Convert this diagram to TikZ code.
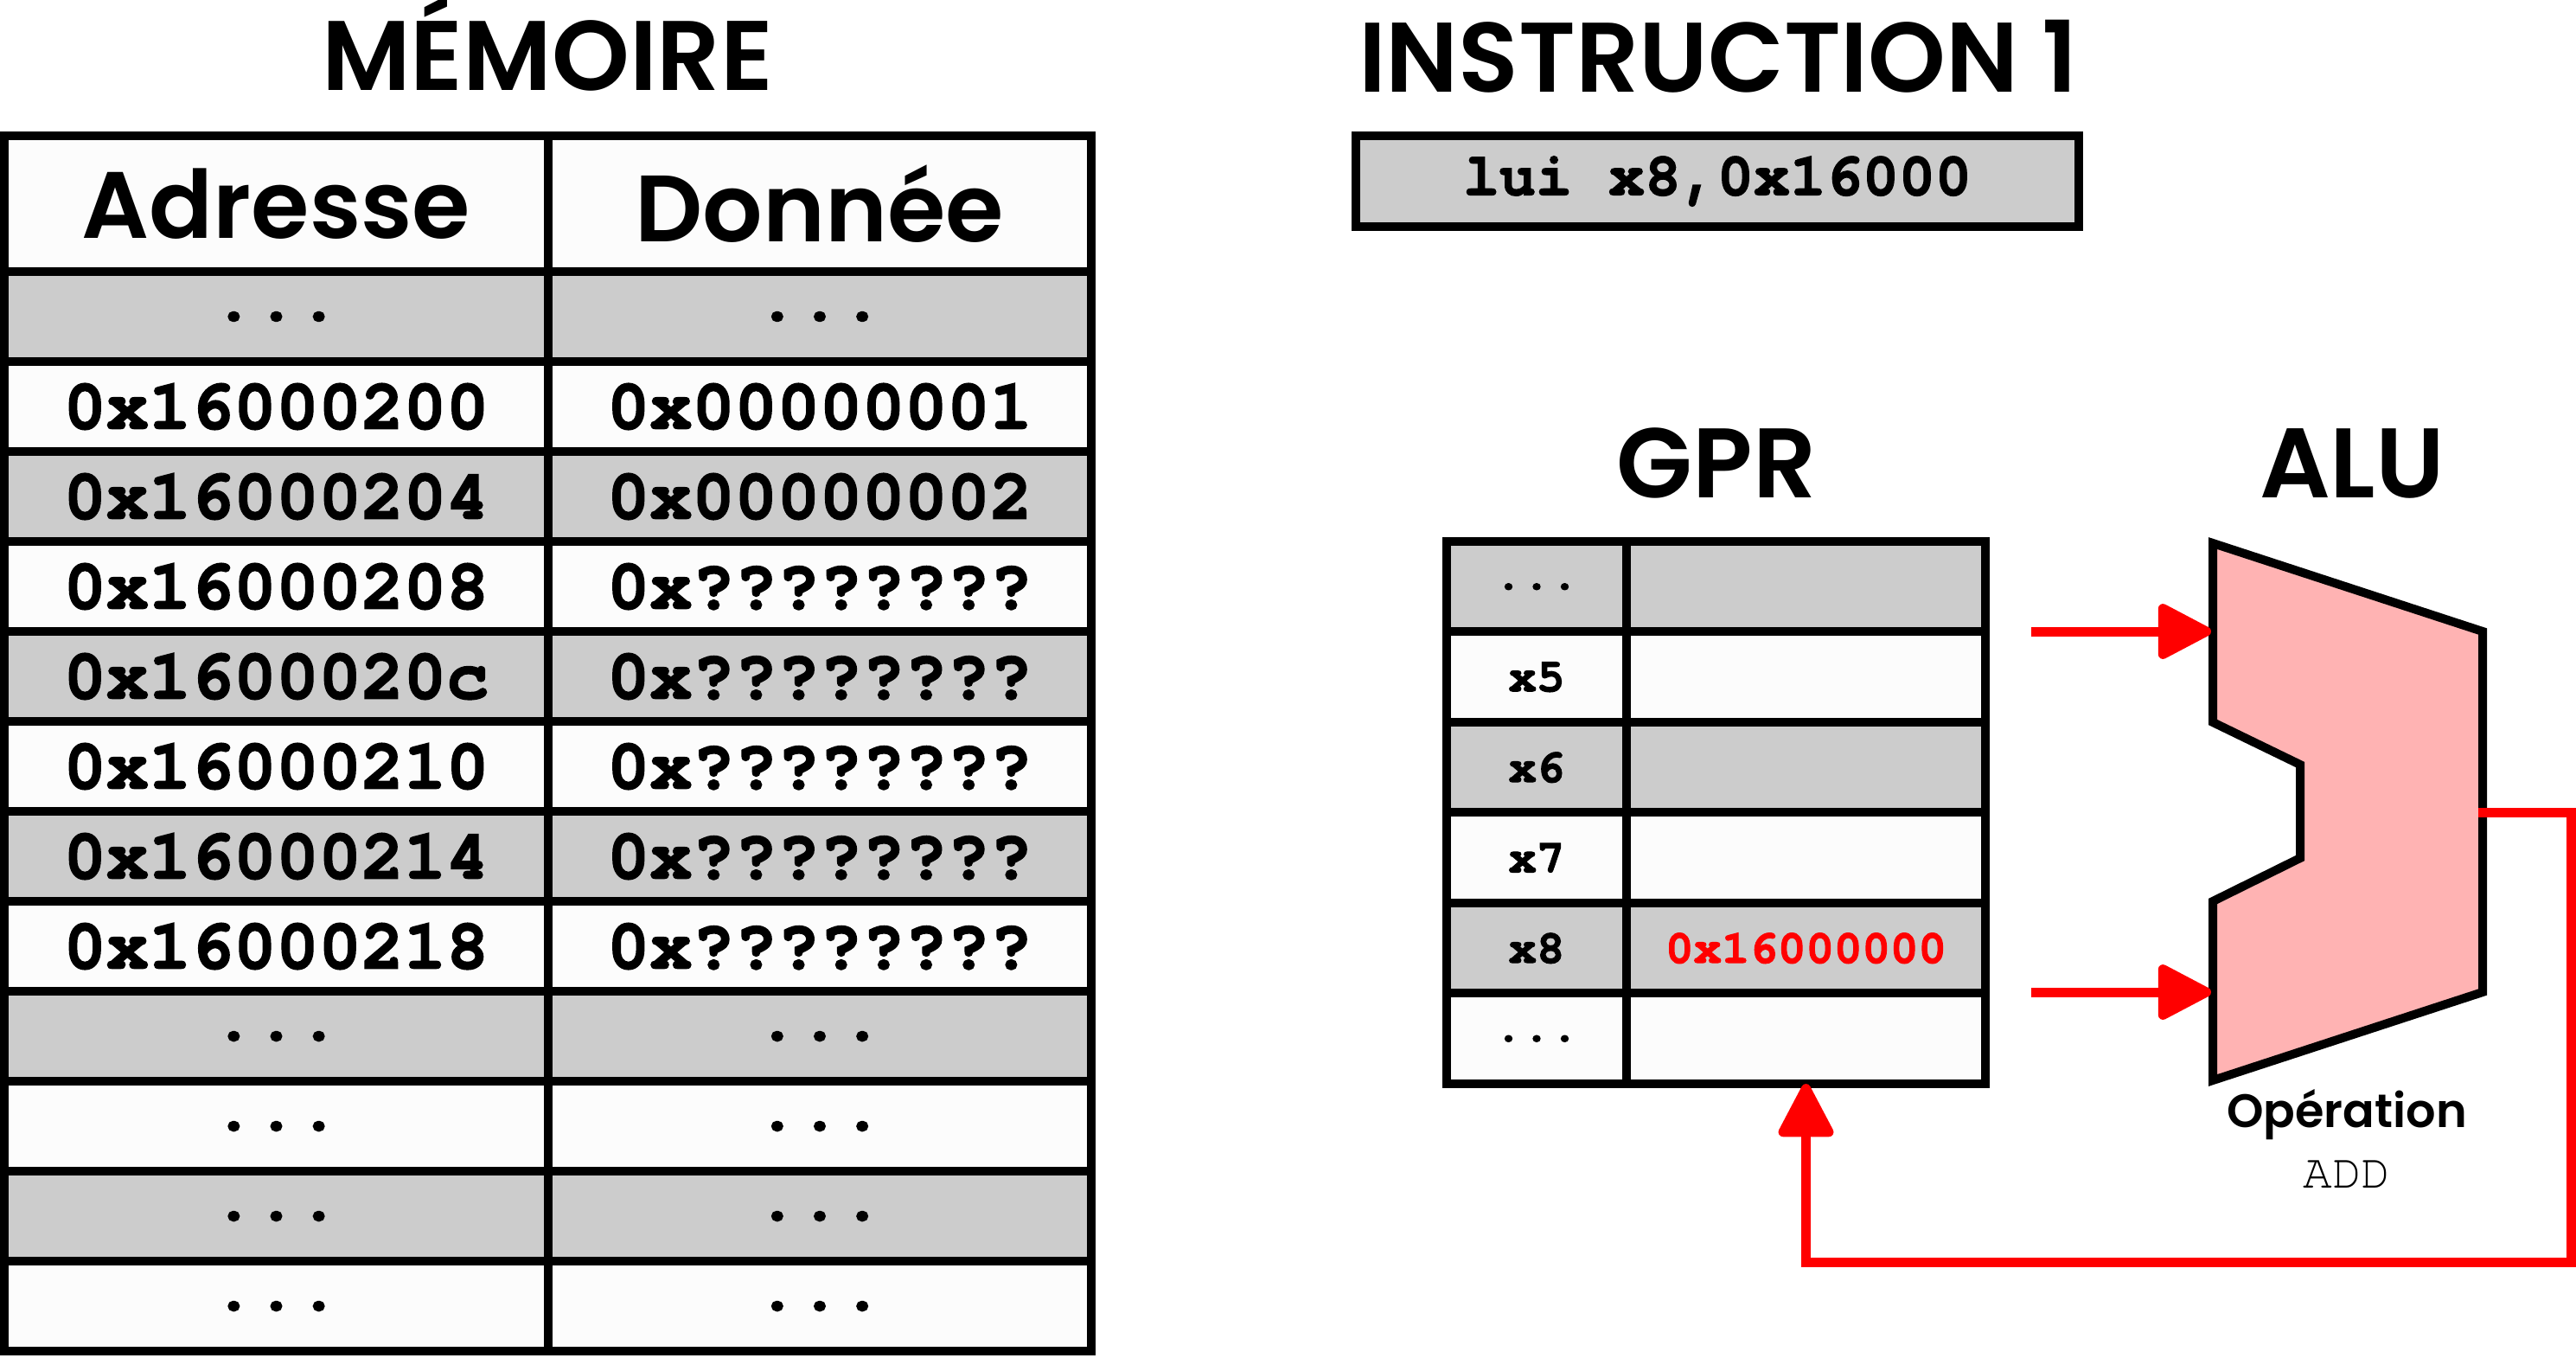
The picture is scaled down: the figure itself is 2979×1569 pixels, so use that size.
\documentclass[tikz,border=0pt]{standalone}
\usepackage{fontspec}
\setmainfont{Poppins}
\setmonofont{texgyrecursor}[Extension=.otf,UprightFont=*-regular,BoldFont=*-bold,BoldFeatures={FakeBold=2}]
\newfontfamily\semifont{Poppins SemiBold}
\newfontfamily\medfont{Poppins Medium}
\usepackage{tikz}
\usetikzlibrary{arrows.meta}
\usetikzlibrary{calc}
\definecolor{cellgray}{HTML}{CCCCCC}
\definecolor{cellwhite}{HTML}{FCFCFC}
\definecolor{alupink}{HTML}{FFB3B3}
\newcommand\suite{...}
\tikzset{cell/.style={draw=black,line width=1mm,inner sep=0pt,outer sep=0pt}}
\tikzset{memcell/.style={cell,minimum height=10.4mm,font=\fontsize{23.3}{26}\selectfont\ttfamily\bfseries}}
\tikzset{regcell/.style={cell,minimum height=10.45mm,font=\fontsize{15.4}{18}\selectfont\ttfamily\bfseries}}
\tikzset{headcell/.style={cell,fill=cellwhite,minimum height=15.7mm,font=\fontsize{31}{36}\selectfont\semifont}}
\tikzset{titletext/.style={anchor=base,inner sep=0pt,font=\fontsize{32.5}{36}\selectfont\semifont}}
\tikzset{wire/.style={draw=red,line width=1.1mm,-{Triangle[length=6.8mm,width=6.8mm,round]}}}

\begin{document}
\begin{tikzpicture}[x=0.01cm,y=-0.01cm]
		\useasboundingbox (0,0) rectangle (2979,1569);
		% memoire
		\begin{scope}
			\node[titletext] (memtitle) at (633,104) {MÉMOIRE};
			\node[headcell,minimum width=62.9mm] (adr0) at (319.5,235.5) {Adresse};
			\node[headcell,minimum width=62.8mm] (don0) at (948,235.5) {Donnée};
			\foreach \adr/\don/\col [count=\k] in {\suite/\suite/cellgray,0x16000200/0x00000001/cellwhite,0x16000204/0x00000002/cellgray,0x16000208/0x????????/cellwhite,0x1600020c/0x????????/cellgray,0x16000210/0x????????/cellwhite,0x16000214/0x????????/cellgray,0x16000218/0x????????/cellwhite,\suite/\suite/cellgray,\suite/\suite/cellwhite,\suite/\suite/cellgray,\suite/\suite/cellwhite}
			{
				\node[memcell,fill=\col,minimum width=62.9mm] (adr\k) at (319.5,{262+104*\k}) {\adr};
				\node[memcell,fill=\col,minimum width=62.8mm] (don\k) at (948,{262+104*\k}) {\don};
			}
		\end{scope}
		% instruction
		\begin{scope}
			\node[titletext] (instrtitle) at (1987,106) {INSTRUCTION 1};
			\node[cell,fill=cellgray,minimum width=83.6mm,minimum height=10.5mm,font=\fontsize{19.9}{22}\selectfont\ttfamily\bfseries] (instr) at (1986,209.5) {lui x8,0x16000};
		\end{scope}
		% registres
		\begin{scope}
			\node[titletext] (gprtitle) at (1985,575) {GPR};
			\foreach \reg/\val/\col [count=\k] in {\suite/{}/cellgray,x5/{}/cellwhite,x6/{}/cellgray,x7/{}/cellwhite,x8/{\textcolor{red}{0x16000000}}/cellgray,\suite/{}/cellwhite}
			{
				\node[regcell,fill=\col,minimum width=20.8mm] (reg\k) at (1777,{573.75+104.5*\k}) {\reg};
				\node[regcell,fill=\col,minimum width=41.5mm] (val\k) at (2088.5,{573.75+104.5*\k}) {\val};
			}
		\end{scope}
		% alu
		\begin{scope}
			\node[titletext] (alutitle) at (2720,575) {ALU};
			\draw[fill=alupink,line width=1mm,line join=miter] (2559,628) -- (2871,730) -- (2871,1147) -- (2559,1249) -- (2559,1042) -- (2660,992) -- (2660,884) -- (2559,835) -- cycle;
			\coordinate (aluA) at (2557,730);
			\coordinate (aluB) at (2557,1147);
			\coordinate (aluOut) at (2866,939);
			\coordinate (inA) at (2349,730);
			\coordinate (inB) at (2349,1147);
			\coordinate (turn) at (2973,1459);
			\node[anchor=base,inner sep=0pt,font=\fontsize{15.4}{18}\selectfont\semifont] (op) at (2714,1303) {Opération};
			\node[anchor=base,inner sep=0pt,font=\fontsize{16}{18}\selectfont\ttfamily] (opname) at (2714,1373) {ADD};
		\end{scope}
		\path[wire] (inA) -- (aluA);
		\path[wire] (inB) -- (aluB);
		\path[wire] (aluOut) -| (turn) -| (val6.south);
	\end{tikzpicture}
\end{document}
